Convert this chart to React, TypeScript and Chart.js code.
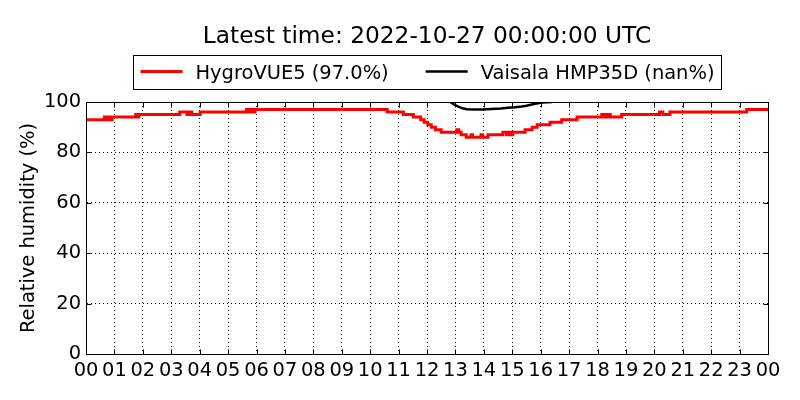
import React, { useEffect, useRef } from "react";
import { Chart, registerables } from "chart.js";

Chart.register(...registerables);

const titleText = "Latest time: 2022-10-27 00:00:00 UTC";
const hygroLabel = "HygroVUE5 (97.0%)";
const vaisalaLabel = "Vaisala HMP35D (nan%)";
const yTitle = "Relative humidity (%)";

const hourLabels = [
  "00", "01", "02", "03", "04", "05", "06", "07", "08", "09", "10", "11",
  "12", "13", "14", "15", "16", "17", "18", "19", "20", "21", "22", "23", "00"
];

// HygroVUE5, step changes (hour of day, %)
const hygroHours = [
  0, 0.65, 0.72, 0.78, 0.86, 0.92, 1.75, 1.8, 1.86, 3.3, 3.55, 3.62, 3.72, 4.02,
  5.65, 5.75, 5.82, 5.9, 5.95, 10.6, 11.17, 11.52, 11.78, 11.9, 12.03, 12.15,
  12.3, 12.5, 13.05, 13.12, 13.2, 13.38, 13.55, 13.6, 13.9, 13.95, 14.15, 14.67,
  14.8, 14.88, 14.95, 15.02, 15.45, 15.7, 15.88, 16.33, 16.74, 17.28, 18.15,
  18.25, 18.35, 18.45, 18.85, 20.18, 20.3, 20.55, 23.25, 24
];
const hygroValues = [
  93, 94, 93, 94, 93, 94, 95, 94, 95, 96, 95, 96, 95, 96,
  97, 96, 97, 96, 97, 96, 95, 94, 93, 92, 91, 90,
  89, 88, 89, 88, 87, 86, 87, 86, 87, 86, 87, 88,
  87, 88, 87, 88, 89, 90, 91, 92, 93, 94, 95,
  94, 95, 94, 95, 96, 95, 96, 97, 97
];

// Vaisala HMP35D, only the part below 100 %
const vaisalaHours = [
  12.82, 12.95, 13.1, 13.25, 13.4, 13.7, 13.95, 14.27, 14.6, 14.85, 15.1,
  15.33, 15.5, 15.68, 15.85, 16.05, 16.4
];
const vaisalaValues = [
  100, 99, 98.2, 97.5, 97.1, 97, 97, 97.2, 97.4, 97.7, 97.9,
  98.2, 98.5, 99, 99.4, 99.8, 100
];

const FONT = "'DejaVu Sans'";

const framePlugin = {
  id: "frame",
  afterDraw(chart: any) {
    const { ctx, chartArea: a, scales } = chart;
    const l = Math.round(a.left) + 0.5;
    const r = Math.round(a.right) + 0.5;
    const t = Math.round(a.top) + 0.5;
    const b = Math.round(a.bottom) + 0.5;
    ctx.save();
    ctx.strokeStyle = "#000";
    ctx.lineWidth = 1;
    ctx.strokeRect(l, t, r - l, b - t);
    ctx.beginPath();
    scales.x.ticks.forEach((tk: any) => {
      const px = Math.round(scales.x.getPixelForValue(tk.value)) + 0.5;
      ctx.moveTo(px, b);
      ctx.lineTo(px, b - 5);
      ctx.moveTo(px, t);
      ctx.lineTo(px, t + 5);
    });
    scales.y.ticks.forEach((tk: any) => {
      const py = Math.round(scales.y.getPixelForValue(tk.value)) + 0.5;
      ctx.moveTo(l, py);
      ctx.lineTo(l + 5, py);
      ctx.moveTo(r, py);
      ctx.lineTo(r - 5, py);
    });
    ctx.stroke();

    const cx = (a.left + a.right) / 2;
    ctx.fillStyle = "#000";
    ctx.textBaseline = "alphabetic";
    ctx.textAlign = "center";
    ctx.font = `23.3px ${FONT}`;
    ctx.fillText(titleText, cx, 42.5);

    // legend box
    ctx.font = `19.44px ${FONT}`;
    ctx.textAlign = "left";
    const w1 = ctx.measureText(hygroLabel).width;
    const w2 = ctx.measureText(vaisalaLabel).width;
    const pad = 7, handle = 42, gap = 13, colGap = 37;
    const total = pad + handle + gap + w1 + colGap + handle + gap + w2 + pad;
    const x0 = Math.round(cx - total / 2) + 0.5;
    ctx.strokeRect(x0, 55.5, Math.round(total), 34);
    let x = x0 + pad;
    ctx.lineWidth = 3;
    ctx.strokeStyle = "#ff0000";
    ctx.beginPath();
    ctx.moveTo(x, 71.5);
    ctx.lineTo(x + handle, 71.5);
    ctx.stroke();
    x += handle + gap;
    ctx.fillText(hygroLabel, x, 78.5);
    x += w1 + colGap;
    ctx.strokeStyle = "#000";
    ctx.lineWidth = 2.5;
    ctx.beginPath();
    ctx.moveTo(x, 71.5);
    ctx.lineTo(x + handle, 71.5);
    ctx.stroke();
    x += handle + gap;
    ctx.fillText(vaisalaLabel, x, 78.5);
    ctx.restore();
  }
};

const App: React.FC = () => {
  const chartRef = useRef<HTMLCanvasElement>(null);

  useEffect(() => {
    let myChart: Chart | null = null;
    if (chartRef.current) {
      Chart.defaults.font.family = FONT;
      Chart.defaults.color = "#000";
      myChart = new Chart(chartRef.current, {
        type: "line",
        data: {
          datasets: [
            {
              label: hygroLabel,
              data: hygroHours.map((h, i) => ({ x: h, y: hygroValues[i] })),
              borderColor: "#ff0000",
              borderWidth: 3,
              pointRadius: 0,
              stepped: true,
              fill: false
            },
            {
              label: vaisalaLabel,
              data: vaisalaHours.map((h, i) => ({ x: h, y: vaisalaValues[i] })),
              borderColor: "#000000",
              borderWidth: 2.5,
              pointRadius: 0,
              tension: 0,
              fill: false
            }
          ]
        },
        options: {
          animation: false,
          responsive: true,
          maintainAspectRatio: false,
          layout: { padding: { top: 102, right: 32, left: 0, bottom: 0 } },
          plugins: {
            legend: { display: false },
            title: { display: false },
            tooltip: { enabled: false }
          },
          scales: {
            x: {
              type: "linear",
              min: 0,
              max: 24,
              afterFit: (s: any) => {
                s.height = 46;
              },
              ticks: {
                stepSize: 1,
                autoSkip: false,
                maxRotation: 0,
                padding: 5,
                color: "#000",
                font: { size: 19.44 },
                callback: (v: any) => hourLabels[Number(v)]
              },
              grid: { color: "#000", lineWidth: 1, drawTicks: false },
              border: { color: "#000", width: 1, dash: [1, 3] }
            },
            y: {
              min: 0,
              max: 100,
              afterFit: (s: any) => {
                s.width = 86;
              },
              ticks: {
                stepSize: 20,
                padding: 5,
                color: "#000",
                font: { size: 19.44 }
              },
              title: {
                display: true,
                text: yTitle,
                color: "#000",
                font: { size: 19.44 },
                padding: { top: 17, bottom: 0 }
              },
              grid: { color: "#000", lineWidth: 1, drawTicks: false },
              border: { color: "#000", width: 1, dash: [1, 3] }
            }
          }
        },
        plugins: [framePlugin]
      });
    }
    return () => {
      if (myChart) myChart.destroy();
    };
  }, []);

  return (
    <div style={{ position: "absolute", left: 0, top: 0, width: 800, height: 400, background: "#fff" }}>
      <canvas ref={chartRef} />
    </div>
  );
};

export default App;
